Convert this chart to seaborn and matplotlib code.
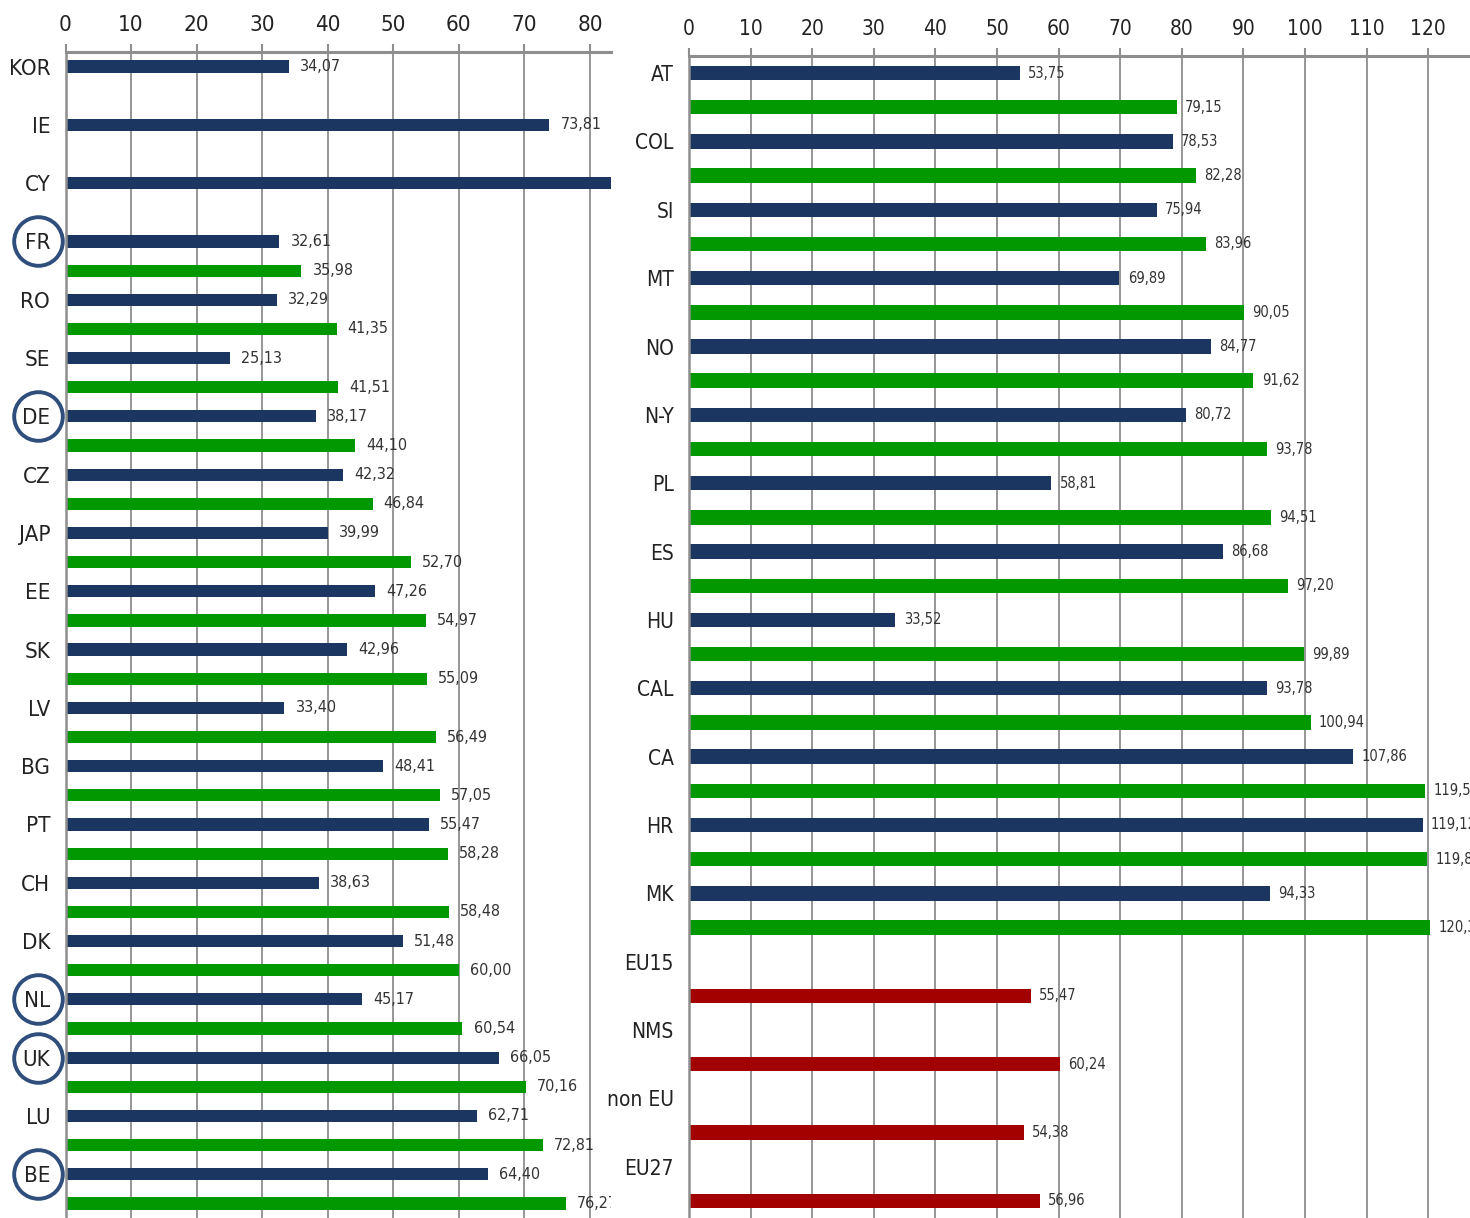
#!/usr/bin/env python3
"""
Two panel horizontal bar chart: country values, previous (navy) vs current (green), group averages (red)
"""

import numpy as np
import pandas as pd
import matplotlib
matplotlib.use("Agg")
import matplotlib.pyplot as plt
import matplotlib.transforms as mtransforms
from matplotlib import font_manager
import seaborn as sns

# === Data ===
left_cats = ['KOR', 'IE', 'CY', 'FR', 'RO', 'SE', 'DE', 'CZ', 'JAP', 'EE',
             'SK', 'LV', 'BG', 'PT', 'CH', 'DK', 'NL', 'UK', 'LU', 'BE']
left_blue = [34.07, 73.81, 90.00, 32.61, 32.29, 25.13, 38.17, 42.32, 39.99, 47.26,
             42.96, 33.40, 48.41, 55.47, 38.63, 51.48, 45.17, 66.05, 62.71, 64.40]
left_green = [None, None, None, 35.98, 41.35, 41.51, 44.10, 46.84, 52.70, 54.97,
              55.09, 56.49, 57.05, 58.28, 58.48, 60.00, 60.54, 70.16, 72.81, 76.27]
left_circled = ['FR', 'DE', 'NL', 'UK', 'BE']

right_cats = ['AT', 'COL', 'SI', 'MT', 'NO', 'N-Y', 'PL', 'ES', 'HU', 'CAL',
              'CA', 'HR', 'MK', 'EU15', 'NMS', 'non EU', 'EU27']
right_blue = [53.75, 78.53, 75.94, 69.89, 84.77, 80.72, 58.81, 86.68, 33.52, 93.78,
              107.86, 119.12, 94.33, None, None, None, None]
right_green = [79.15, 82.28, 83.96, 90.05, 91.62, 93.78, 94.51, 97.20, 99.89, 100.94,
               119.50, 119.87, 120.33, None, None, None, None]
right_red = [None] * 13 + [55.47, 60.24, 54.38, 56.96]

COLORS = {'blue': '#1b3660', 'green': '#029802', 'red': '#a30000'}
GRID = '#8e8e8e'
CIRCLE = '#2f4e7c'


def build_frame(blue, second, kind):
    rows = []
    for i, v in enumerate(blue):
        if v is not None:
            rows.append({'pos': 2 * i, 'value': v, 'series': 'blue'})
    for k, vals in zip(kind, second):
        for i, v in enumerate(vals):
            if v is not None:
                rows.append({'pos': 2 * i + 1, 'value': v, 'series': k})
    return pd.DataFrame(rows)


def fmt_val(v):
    return f"{v:.2f}".replace('.', ',')


def draw_panel(ax, cats, df, xmax, xticks, ybottom, cat_size, tick_size, val_size, pad):
    nslots = 2 * len(cats)
    sns.barplot(data=df, x='value', y='pos', hue='series', palette=COLORS,
                orient='h', native_scale=True, dodge=False, width=0.42,
                saturation=1, errorbar=None, legend=False, linewidth=0, ax=ax)

    ax.set_xlim(0, xmax)
    ax.set_ylim(ybottom, -0.5)
    ax.xaxis.tick_top()
    ax.set_xticks(xticks)
    ax.set_xticklabels([str(t) for t in xticks], fontsize=tick_size, color='#222222')
    ax.tick_params(axis='x', length=6, width=1.5, color=GRID, pad=6)

    ax.set_yticks(np.arange(0, nslots, 2))
    ax.set_yticklabels(cats, fontsize=cat_size, color='#222222')
    ax.set_yticks(np.arange(-0.5, nslots, 1), minor=True)
    ax.tick_params(axis='y', which='major', length=0, pad=11)
    ax.tick_params(axis='y', which='minor', length=4, width=1.5, color=GRID)
    ax.set_xlabel('')
    ax.set_ylabel('')

    ax.set_axisbelow(True)
    ax.grid(axis='x', color=GRID, linewidth=1.3)
    ax.grid(axis='y', visible=False)
    for side in ['right', 'bottom']:
        ax.spines[side].set_visible(False)
    ax.spines['top'].set_color(GRID)
    ax.spines['top'].set_linewidth(2.2)
    ax.spines['left'].set_color(GRID)
    ax.spines['left'].set_linewidth(1.8)

    for c in ax.containers:
        texts = ax.bar_label(c, fmt=fmt_val, padding=pad, fontsize=val_size, color='#333333')
        for t in texts:
            t.set_clip_path(ax.patch)
            t.set_clip_on(True)


def main():
    sns.set_style('white')
    plt.rcParams['font.family'] = ['DejaVu Sans']
    plt.rcParams['font.stretch'] = 'condensed'
    print(font_manager.findfont(font_manager.FontProperties(family='DejaVu Sans', stretch='condensed')))

    fig = plt.figure(figsize=(14.7, 12.18), dpi=100)
    W, H = 1470, 1218

    # left panel
    ax1 = fig.add_axes([65.5 / W, 0, (611 - 65.5) / W, (H - 52) / H])
    df_left = build_frame(left_blue, [left_green], ['green'])
    draw_panel(ax1, left_cats, df_left, 83.2, list(range(0, 81, 10)),
               39.33, 16, 16, 11.5, 8)

    # circled country labels
    trans = mtransforms.blended_transform_factory(ax1.transAxes, ax1.transData)
    circ_pos = [2 * left_cats.index(c) for c in left_circled]
    ax1.plot([-0.05] * len(circ_pos), circ_pos, linestyle='none', marker='o',
             markersize=35, markerfacecolor='none', markeredgecolor=CIRCLE,
             markeredgewidth=2.8, transform=trans, clip_on=False)

    # right panel
    ax2 = fig.add_axes([689 / W, 0, (W - 689) / W, (H - 56) / H])
    df_right = build_frame(right_blue, [right_green, right_red], ['green', 'red'])
    draw_panel(ax2, right_cats, df_right, 126.8, list(range(0, 121, 10)),
               33.5, 15, 15, 10.5, 6)

    fig.savefig('out.png', dpi=100)
    plt.close(fig)


if __name__ == "__main__":
    main()
